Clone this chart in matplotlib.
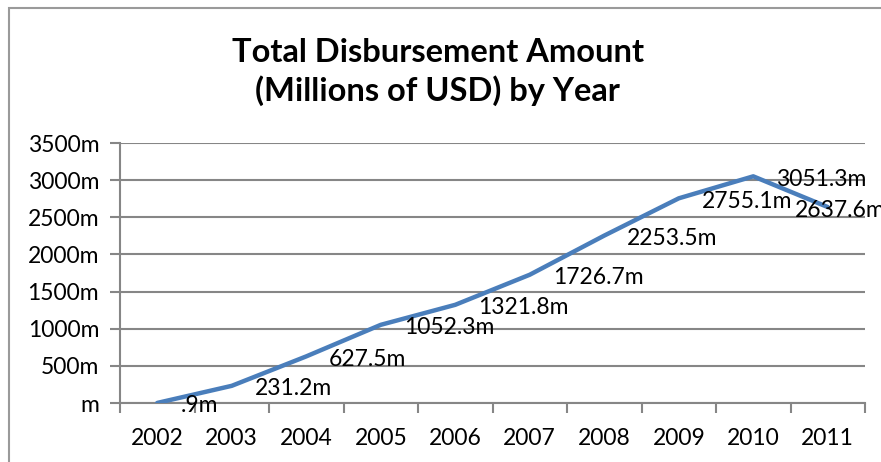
import matplotlib.pyplot as plt
from matplotlib.patches import Rectangle

years = ['2002', '2003', '2004', '2005', '2006', '2007', '2008', '2009', '2010', '2011']
amounts = [0.9, 231.2, 627.5, 1052.3, 1321.8, 1726.7, 2253.5, 2755.1, 3051.3, 2637.6]
value_labels = ['.9m', '231.2m', '627.5m', '1052.3m', '1321.8m', '1726.7m',
                '2253.5m', '2755.1m', '3051.3m', '2637.6m']
y_ticks = [0, 500, 1000, 1500, 2000, 2500, 3000, 3500]

plt.rcParams['font.family'] = ['Lato', 'DejaVu Sans']
fs = 16.5

fig = plt.figure(figsize=(8.81, 4.62), dpi=100)
ax = fig.add_axes([120 / 881, 1 - 403 / 462, 745 / 881, 260 / 462])

# outer chart frame (only top/left edges visible)
fig.patches.append(Rectangle((9 / 881, -0.1), 1.2, 1 - 8 / 462 + 0.1,
                             transform=fig.transFigure, fill=False,
                             edgecolor='#9a9a9a', linewidth=1.5))

x = list(range(len(years)))
ax.plot(x, amounts, color='#4a7ebb', linewidth=3.2, solid_capstyle='round', zorder=3)

for i, (xi, yi, lab) in enumerate(zip(x, amounts, value_labels)):
    # the last label is pulled back left so it stays near the plot edge
    dx = -33 if i == len(x) - 1 else 23
    ax.annotate(lab, (xi, yi), xytext=(dx, -3), textcoords='offset pixels',
                ha='left', va='center', fontsize=fs, annotation_clip=False,
                zorder=4)

ax.set_xlim(-0.5, len(years) - 0.5)
ax.set_ylim(0, 3500)
ax.set_yticks(y_ticks)
ax.set_yticklabels([(str(t) if t else '') + 'm' for t in y_ticks])
ax.set_xticks(x)
ax.set_xticklabels(years)
ax.set_xticks([i - 0.5 for i in range(len(years) + 1)], minor=True)

ax.grid(axis='y', color='#868686', linewidth=1.5)
ax.set_axisbelow(True)
for side in ['top', 'right']:
    ax.spines[side].set_visible(False)
for side in ['left', 'bottom']:
    ax.spines[side].set_color('#868686')
    ax.spines[side].set_linewidth(1.5)

ax.tick_params(axis='y', length=7, width=1.5, color='#868686', labelsize=fs, pad=8)
ax.tick_params(axis='x', which='major', length=0, labelsize=fs, pad=18)
ax.tick_params(axis='x', which='minor', length=7, width=1.5, color='#868686')

fig.text(0.497, 1 - 72 / 462, 'Total Disbursement Amount\n(Millions of USD) by Year',
         ha='center', va='center', fontsize=23.5, fontweight='bold', linespacing=1.3)

fig.savefig('out.png', dpi=100)
